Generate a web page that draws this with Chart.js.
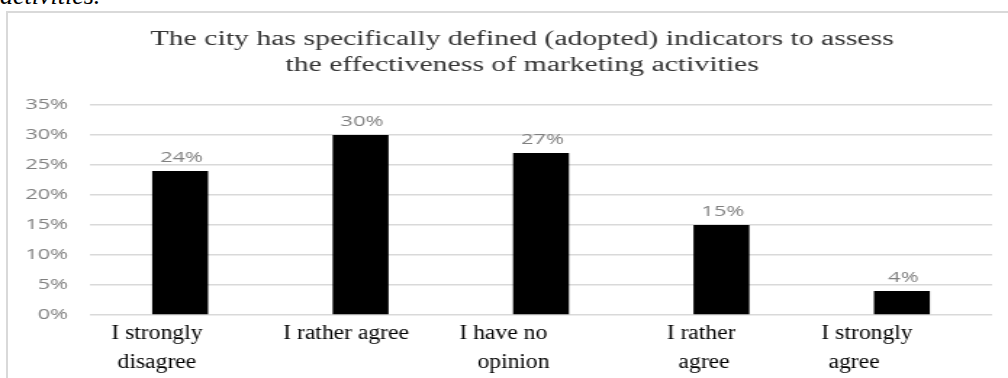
<!DOCTYPE html>
<html>
<head>
<meta charset="utf-8">
<script src="https://cdn.jsdelivr.net/npm/chart.js@4.4.1/dist/chart.umd.min.js"></script>
<style>
  html, body { margin: 0; padding: 0; background: #fff; overflow: hidden; }
  body { width: 1008px; height: 378px; position: relative; }
  .prev-line { position: absolute; left: 0; top: -17px; font: italic 26px "Liberation Serif", serif; line-height: 1; color: #000; }
  .frame { position: absolute; left: 6px; top: 11px; width: 1030px; height: 400px;
           border-left: 2px solid #d9d9d9; border-top: 2px solid #d9d9d9; }
  /* the chart is drawn narrow and stretched sideways */
  #chart { position: absolute; left: 0; top: 0; transform-origin: 0 0; transform: scaleX(1.4504); }
</style>
</head>
<body>
<div class="prev-line">activities.</div>
<div class="frame"></div>
<canvas id="chart" width="695" height="378"></canvas>
<script>
const titleLines = [
  'The city has specifically defined (adopted) indicators to assess',
  'the effectiveness of marketing activities'
];
const categories = [
  ['I strongly', 'disagree'],
  ['I rather agree'],
  ['I have no', 'opinion'],
  ['I rather', 'agree'],
  ['I strongly', 'agree']
];
const shares = [24, 30, 27, 15, 4];
const tickValues = [0, 5, 10, 15, 20, 25, 30, 35];

// where each line of a category name sits, relative to its bar
const nameShift = [[-16, -16], [-10], [-26, -19], [-14, -12], [-24, -33]];

const textPlugin = {
  id: 'barText',
  // the y axis is kept narrow so the title stays centred; let its labels spill left
  afterLayout(chart) {
    chart.scales.y.left = 0;
  },
  afterDatasetsDraw(chart) {
    const ctx = chart.ctx;
    const meta = chart.getDatasetMeta(0);
    ctx.save();
    ctx.fillStyle = '#808080';
    ctx.font = '15px "Open Sans"';
    ctx.textAlign = 'center';
    ctx.textBaseline = 'alphabetic';
    meta.data.forEach((bar, i) => {
      ctx.fillText(shares[i] + '%', bar.x + 1, bar.y - 9);
    });

    // category names under the axis, in the body text font
    const xScale = chart.scales.x;
    const bottom = chart.chartArea.bottom;
    ctx.fillStyle = '#000';
    ctx.font = '20px "Liberation Serif"';
    categories.forEach((lines, i) => {
      const cx = xScale.getPixelForValue(i);
      lines.forEach((line, j) => {
        ctx.save();
        ctx.translate(cx + nameShift[i][j], bottom + 24 + j * 29);
        ctx.scale(0.814, 1);
        ctx.fillText(line, 0, 0);
        ctx.restore();
      });
    });
    ctx.restore();
  }
};

new Chart(document.getElementById('chart'), {
  type: 'bar',
  data: {
    labels: categories.map(c => c.join(' ')),
    datasets: [{
      data: shares,
      backgroundColor: '#000',
      barPercentage: 0.31,
      categoryPercentage: 1
    }]
  },
  options: {
    responsive: false,
    animation: false,
    devicePixelRatio: 1,
    layout: { padding: { left: 36, right: 11, top: 12, bottom: 0 } },
    plugins: {
      legend: { display: false },
      tooltip: { enabled: false },
      title: {
        display: true,
        text: titleLines,
        color: '#333',
        font: { family: 'Liberation Serif', size: 20.5, weight: 'normal', lineHeight: 1.29 },
        padding: { top: 14, bottom: 26 }
      }
    },
    scales: {
      x: {
        grid: { display: false },
        border: { display: false },
        ticks: { display: false },
        afterFit: s => { s.height = 63; }
      },
      y: {
        min: 0,
        max: 35,
        grid: { color: '#d9d9d9', lineWidth: 1.5, drawTicks: false },
        border: { display: false },
        ticks: {
          padding: 15,
          color: '#808080',
          font: { family: 'Open Sans', size: 15 },
          callback: v => v + '%'
        },
        afterBuildTicks: axis => { axis.ticks = tickValues.map(v => ({ value: v })); },
        afterFit: s => { s.width = 26; }
      }
    }
  },
  plugins: [textPlugin]
});
</script>
</body>
</html>
